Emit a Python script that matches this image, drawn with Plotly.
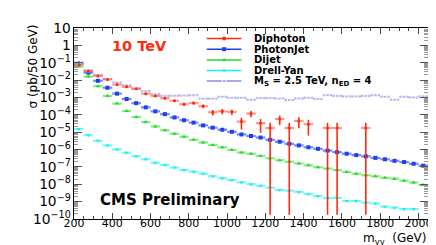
import numpy as np
import plotly.graph_objects as go

# ---------------- data (log10 of sigma in pb/50 GeV) ----------------
bins_all = [225, 275, 325, 375, 425, 475, 525, 575, 625, 675, 725, 775, 825, 875, 925, 975,
            1025, 1075, 1125, 1175, 1225, 1275, 1325, 1375, 1425, 1475, 1525, 1575, 1625,
            1675, 1725, 1775, 1825, 1875, 1925, 1975, 2025]

photonjet_log = [-1.03, -1.57, -2.04, -2.44, -2.78, -3.09, -3.33, -3.57, -3.80, -3.96, -4.15,
                 -4.31, -4.45, -4.61, -4.74, -4.86, -4.98, -5.13, -5.22, -5.31, -5.44, -5.55,
                 -5.67, -5.76, -5.87, -5.96, -6.06, -6.15, -6.24, -6.32, -6.39, -6.48, -6.56,
                 -6.65, -6.72, -6.82, -6.93]

dijet_log = [-1.22, -1.80, -2.35, -2.91, -3.35, -3.78, -4.13, -4.42, -4.67, -4.89, -5.09,
             -5.26, -5.44, -5.59, -5.74, -5.87, -6.02, -6.17, -6.24, -6.37, -6.50, -6.61,
             -6.70, -6.80, -6.91, -7.02, -7.09, -7.18, -7.29, -7.39, -7.48, -7.54, -7.63,
             -7.68, -7.79, -7.90, -8.04]

drellyan_bins = bins_all[:-1]
drellyan_log = [-4.81, -5.17, -5.50, -5.76, -6.00, -6.18, -6.39, -6.56, -6.76, -6.89, -7.04,
                -7.18, -7.28, -7.39, -7.54, -7.65, -7.76, -7.89, -8.00, -8.09, -8.20, -8.33,
                -8.37, -8.44, -8.56, -8.68, -8.80, -8.78, -8.96, -8.96, -9.06, -9.11, -9.29,
                -9.35, -9.43, -9.43]

signal_log = [-0.98, -1.43, -1.69, -1.93, -2.13, -2.30, -2.48, -2.63, -2.81, -2.91, -2.90,
              -2.89, -2.87, -3.07, -3.07, -2.96, -3.02, -3.02, -3.13, -3.04, -3.04, -3.06,
              -3.15, -3.06, -3.02, -3.09, -2.87, -2.91, -2.94, -2.94, -2.91, -2.87, -2.96,
              -3.13, -2.96, -3.00, -2.94]

diphoton_bins = [225, 275, 325, 375, 425, 475, 525, 575, 625, 675, 725, 775, 825, 875, 925,
                 975, 1025, 1075, 1125, 1175, 1225, 1275, 1325, 1375, 1425, 1525, 1575, 1725]
diphoton_log = [-1.12, -1.48, -1.76, -1.96, -2.26, -2.39, -2.50, -2.78, -2.91, -3.04, -3.19,
                -3.39, -3.32, -3.50, -3.85, -3.80, -3.83, -4.39, -3.93, -4.48, -4.76, -4.24,
                -4.76, -4.35, -4.54, -4.76, -4.76, -4.76]
diphoton_relerr = [0.016, 0.023, 0.032, 0.04, 0.056, 0.065, 0.074, 0.10, 0.12, 0.14, 0.16,
                   0.21, 0.19, 0.24, 0.35, 0.33, 0.34, 0.65, 0.39, 0.72, 1.0, 0.55, 1.0,
                   0.62, 0.78, 1.0, 1.0, 1.0]

bin_half_width = 25

legend_labels = ["Diphoton", "PhotonJet", "Dijet", "Drell-Yan",
                 "M<sub>S</sub> = 2.5 TeV, n<sub>ED</sub> = 4"]

# ---------------- styles ----------------
RED = "#ff2a10"
BLUE = "#1f3ff0"
GREEN = "#22dd22"
CYAN = "#22f0f0"
LAV = "#8c8ce6"
FONT = "DejaVu Sans"

fig = go.Figure()


def add_series(x, logv, color, symbol, size, xbar_color, open_marker=False, err=None):
    y = 10 ** np.array(logv)
    kw = {}
    if err is not None:
        rel = np.array(err)
        kw["error_y"] = dict(type="data", symmetric=False, array=y * rel,
                             arrayminus=y * np.minimum(rel, 0.99999),
                             color=color, thickness=1.6, width=0)
    marker = dict(color=color, size=size, symbol=symbol)
    if open_marker:
        marker = dict(color="white", size=size, symbol=symbol,
                      line=dict(color=color, width=1))
    fig.add_trace(go.Scatter(
        x=x, y=y, mode="markers", marker=marker,
        error_x=dict(type="constant", value=bin_half_width, color=xbar_color,
                     thickness=2.2, width=0),
        showlegend=False, cliponaxis=True, **kw))


add_series(drellyan_bins, drellyan_log, CYAN, "triangle-down", 4, "rgba(40,240,240,0.6)")
add_series(bins_all, dijet_log, GREEN, "triangle-up", 4, "rgba(40,220,40,0.55)")
add_series(bins_all, photonjet_log, BLUE, "square", 4, "rgba(30,60,240,0.6)")
add_series(bins_all, signal_log, LAV, "circle-open", 4, "rgba(140,140,230,0.6)", open_marker=True)
add_series(diphoton_bins, diphoton_log, RED, "circle", 3, "rgba(255,70,50,0.55)", err=diphoton_relerr)

# ---------------- legend (drawn on an invisible overlay axis) ----------------
leg_colors = [RED, BLUE, GREEN, CYAN, LAV]
leg_symbols = ["circle", "square", "triangle-up", "triangle-down", "circle-open"]
leg_y = [0.945, 0.889, 0.833, 0.778, 0.722]
annotations = []
for lab, c, s, yy in zip(legend_labels, leg_colors, leg_symbols, leg_y):
    fig.add_trace(go.Scatter(x=[0.375, 0.473], y=[yy, yy], mode="lines",
                             line=dict(color=c, width=1.5), xaxis="x2", yaxis="y2",
                             showlegend=False, hoverinfo="skip"))
    mk = dict(color=c, size=4, symbol=s)
    if s == "circle-open":
        mk = dict(color="white", size=4, symbol=s, line=dict(color=c, width=1))
    fig.add_trace(go.Scatter(x=[0.424], y=[yy], mode="markers", marker=mk,
                             xaxis="x2", yaxis="y2", showlegend=False, hoverinfo="skip"))
    annotations.append(dict(text=lab, xref="paper", yref="paper", x=0.505, y=yy,
                            xanchor="left", yanchor="middle", showarrow=False,
                            borderpad=0,
                            font=dict(family=FONT, size=10, color="black", weight="bold")))

annotations += [
    dict(text="10 TeV", xref="paper", yref="paper", x=0.185, y=0.904, showarrow=False,
         xanchor="center", yanchor="middle",
         font=dict(family=FONT, size=14.5, color=RED, weight="bold")),
    dict(text="CMS Preliminary", xref="paper", yref="paper", x=0.27, y=0.101,
         showarrow=False, xanchor="center", yanchor="middle",
         font=dict(family=FONT, size=15, color="black", weight="bold")),
    dict(text="σ (pb/50 GeV)", xref="paper", yref="paper", x=-0.115, y=0.80,
         textangle=-90, showarrow=False, xanchor="center", yanchor="middle",
         font=dict(family=FONT, size=12, color="black")),
    dict(text="m<sub>γγ</sub>  (GeV)", xref="paper", yref="paper", x=1.0, y=-0.104,
         showarrow=False, xanchor="right", yanchor="middle", borderpad=0,
         font=dict(family=FONT, size=12, color="black")),
]

fig.update_layout(
    width=436, height=245,
    margin=dict(l=66, r=13, t=13, b=34),
    paper_bgcolor="white", plot_bgcolor="white",
    showlegend=False,
    annotations=annotations,
    xaxis=dict(range=[200, 2050], tick0=200, dtick=200, ticks="inside", ticklen=6,
               mirror="ticks", showline=True, linecolor="black", linewidth=1,
               showgrid=False, zeroline=False, ticklabelstandoff=-6,
               tickfont=dict(family=FONT, size=11, color="black"),
               minor=dict(dtick=50, tick0=200, ticks="inside", ticklen=3,
                          tickcolor="#444", showgrid=False)),
    yaxis=dict(type="log", range=[-10, 1], dtick=1, ticks="inside", ticklen=8,
               mirror="ticks", showline=True, linecolor="black", linewidth=1,
               showgrid=False, zeroline=False, exponentformat="power",
               tickcolor="#555",
               tickfont=dict(family=FONT, size=11, color="black"),
               minor=dict(dtick="D1", ticks="inside", ticklen=4, tickcolor="#999",
                          showgrid=False)),
    xaxis2=dict(overlaying="x", range=[0, 1], visible=False),
    yaxis2=dict(overlaying="y", range=[0, 1], visible=False),
)

fig.write_html("out.html")
